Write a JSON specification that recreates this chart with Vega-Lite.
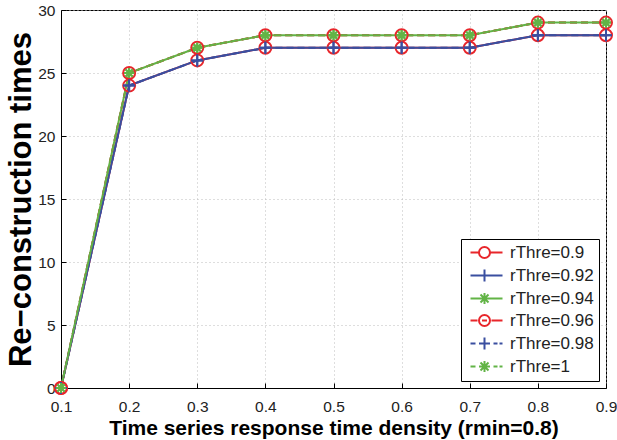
{
  "$schema": "https://vega.github.io/schema/vega-lite/v6.json",
  "width": 545,
  "height": 378,
  "autosize": {"type": "none"},
  "padding": {"left": 61, "top": 10, "right": 11, "bottom": 52},
  "config": {
    "font": "Liberation Sans",
    "view": {"stroke": "black", "strokeWidth": 1},
    "axis": {
      "domainColor": "black",
      "tickColor": "black",
      "tickSize": -5,
      "tickWidth": 1,
      "labelColor": "#222222",
      "labelFontSize": 15.5,
      "titleFontWeight": "bold",
      "titleColor": "black",
      "grid": true,
      "gridColor": "#bdbdbd",
      "gridDash": [1, 3],
      "gridWidth": 1
    },
    "legend": {
      "orient": "bottom-right",
      "offset": 7,
      "strokeColor": "black",
      "fillColor": "white",
      "padding": 5,
      "symbolSize": 100,
      "symbolStrokeWidth": 2,
      "labelOffset": 27,
      "labelFontSize": 17,
      "labelColor": "#222222",
      "rowPadding": 3,
      "title": null
    }
  },
  "data": {
    "values": [
      {"series": "rThre=0.9", "x": 0.1, "y": 0}, {"series": "rThre=0.9", "x": 0.2, "y": 24}, {"series": "rThre=0.9", "x": 0.3, "y": 26}, {"series": "rThre=0.9", "x": 0.4, "y": 27}, {"series": "rThre=0.9", "x": 0.5, "y": 27}, {"series": "rThre=0.9", "x": 0.6, "y": 27}, {"series": "rThre=0.9", "x": 0.7, "y": 27}, {"series": "rThre=0.9", "x": 0.8, "y": 28}, {"series": "rThre=0.9", "x": 0.9, "y": 28},
      {"series": "rThre=0.92", "x": 0.1, "y": 0}, {"series": "rThre=0.92", "x": 0.2, "y": 24}, {"series": "rThre=0.92", "x": 0.3, "y": 26}, {"series": "rThre=0.92", "x": 0.4, "y": 27}, {"series": "rThre=0.92", "x": 0.5, "y": 27}, {"series": "rThre=0.92", "x": 0.6, "y": 27}, {"series": "rThre=0.92", "x": 0.7, "y": 27}, {"series": "rThre=0.92", "x": 0.8, "y": 28}, {"series": "rThre=0.92", "x": 0.9, "y": 28},
      {"series": "rThre=0.94", "x": 0.1, "y": 0}, {"series": "rThre=0.94", "x": 0.2, "y": 25}, {"series": "rThre=0.94", "x": 0.3, "y": 27}, {"series": "rThre=0.94", "x": 0.4, "y": 28}, {"series": "rThre=0.94", "x": 0.5, "y": 28}, {"series": "rThre=0.94", "x": 0.6, "y": 28}, {"series": "rThre=0.94", "x": 0.7, "y": 28}, {"series": "rThre=0.94", "x": 0.8, "y": 29}, {"series": "rThre=0.94", "x": 0.9, "y": 29},
      {"series": "rThre=0.96", "x": 0.1, "y": 0}, {"series": "rThre=0.96", "x": 0.2, "y": 25}, {"series": "rThre=0.96", "x": 0.3, "y": 27}, {"series": "rThre=0.96", "x": 0.4, "y": 28}, {"series": "rThre=0.96", "x": 0.5, "y": 28}, {"series": "rThre=0.96", "x": 0.6, "y": 28}, {"series": "rThre=0.96", "x": 0.7, "y": 28}, {"series": "rThre=0.96", "x": 0.8, "y": 29}, {"series": "rThre=0.96", "x": 0.9, "y": 29},
      {"series": "rThre=0.98", "x": 0.1, "y": 0}, {"series": "rThre=0.98", "x": 0.2, "y": 24}, {"series": "rThre=0.98", "x": 0.3, "y": 26}, {"series": "rThre=0.98", "x": 0.4, "y": 27}, {"series": "rThre=0.98", "x": 0.5, "y": 27}, {"series": "rThre=0.98", "x": 0.6, "y": 27}, {"series": "rThre=0.98", "x": 0.7, "y": 27}, {"series": "rThre=0.98", "x": 0.8, "y": 28}, {"series": "rThre=0.98", "x": 0.9, "y": 28},
      {"series": "rThre=1", "x": 0.1, "y": 0}, {"series": "rThre=1", "x": 0.2, "y": 25}, {"series": "rThre=1", "x": 0.3, "y": 27}, {"series": "rThre=1", "x": 0.4, "y": 28}, {"series": "rThre=1", "x": 0.5, "y": 28}, {"series": "rThre=1", "x": 0.6, "y": 28}, {"series": "rThre=1", "x": 0.7, "y": 28}, {"series": "rThre=1", "x": 0.8, "y": 29}, {"series": "rThre=1", "x": 0.9, "y": 29}
    ]
  },
  "encoding": {
    "x": {
      "field": "x", "type": "quantitative",
      "scale": {"domain": [0.1, 0.9], "nice": false, "zero": false},
      "axis": {"values": [0.1, 0.2, 0.3, 0.4, 0.5, 0.6, 0.7, 0.8, 0.9], "format": ".1f", "labelFlush": false, "labelPadding": 16, "title": "Time series response time density (rmin=0.8)", "titleFontSize": 21, "titlePadding": 3}
    },
    "y": {
      "field": "y", "type": "quantitative",
      "scale": {"domain": [0, 30], "nice": false},
      "axis": {"values": [0, 5, 10, 15, 20, 25, 30], "labelFlush": false, "labelPadding": 11, "title": "Re−construction times", "titleFontSize": 31, "titlePadding": 0}
    },
    "color": {
      "field": "series", "type": "nominal",
      "scale": {
        "domain": ["rThre=0.9", "rThre=0.92", "rThre=0.94", "rThre=0.96", "rThre=0.98", "rThre=1"],
        "range": ["#e8262b", "#3a4fa0", "#62b446", "#e8262b", "#3a4fa0", "#62b446"]
      }
    }
  },
  "layer": [
    {
      "transform": [{"filter": {"field": "series", "oneOf": ["rThre=0.9", "rThre=0.92", "rThre=0.94"]}}],
      "mark": {"type": "line", "strokeWidth": 2}
    },
    {
      "transform": [{"filter": {"field": "series", "oneOf": ["rThre=0.96", "rThre=0.98", "rThre=1"]}}],
      "mark": {"type": "line", "strokeWidth": 2, "strokeDash": [7, 4]}
    },
    {
      "transform": [{"filter": {"field": "series", "oneOf": ["rThre=0.9", "rThre=0.96"]}}],
      "mark": {"type": "point", "filled": false, "strokeWidth": 2, "size": 144, "opacity": 1, "shape": "M-1,0A1,1 0 1,0 1,0A1,1 0 1,0 -1,0"}
    },
    {
      "transform": [{"filter": {"field": "series", "oneOf": ["rThre=0.92", "rThre=0.98"]}}],
      "mark": {"type": "point", "filled": false, "strokeWidth": 2, "size": 144, "opacity": 1, "shape": "M-1,0H1M0,-1V1"}
    },
    {
      "transform": [{"filter": {"field": "series", "oneOf": ["rThre=0.94", "rThre=1"]}}],
      "mark": {"type": "point", "filled": false, "strokeWidth": 2, "size": 144, "opacity": 1, "shape": "M-0.85,0H0.85M0,-0.85V0.85M-0.6,-0.6L0.6,0.6M-0.6,0.6L0.6,-0.6"}
    },
    {
      "mark": {"type": "point", "filled": false, "strokeWidth": 2, "opacity": 0},
      "encoding": {
        "shape": {
          "field": "series", "type": "nominal",
          "scale": {
            "domain": ["rThre=0.9", "rThre=0.92", "rThre=0.94", "rThre=0.96", "rThre=0.98", "rThre=1"],
            "range": [
              "M-0.8,0H0.9M3.1,0H5.6M0.9,0A1.1,1.1 0 1,0 3.1,0A1.1,1.1 0 1,0 0.9,0",
              "M-0.8,0H5.6M2,-1.2V1.2",
              "M-0.8,0H5.6M2,-1.1V1.1M1.2,-0.8L2.8,0.8M1.2,0.8L2.8,-0.8",
              "M-0.8,0H0.6M3.4,0H5.6M1.5,0H2.5M0.9,0A1.1,1.1 0 1,0 3.1,0A1.1,1.1 0 1,0 0.9,0",
              "M-0.8,0H0.2M0.9,0H3.1M3.8,0H4.6M5.0,0H5.6M2,-1.2V1.2",
              "M-0.8,0H0.2M0.9,0H3.1M3.8,0H4.6M5.0,0H5.6M2,-1.1V1.1M1.2,-0.8L2.8,0.8M1.2,0.8L2.8,-0.8"
            ]
          }
        }
      }
    }
  ]
}
